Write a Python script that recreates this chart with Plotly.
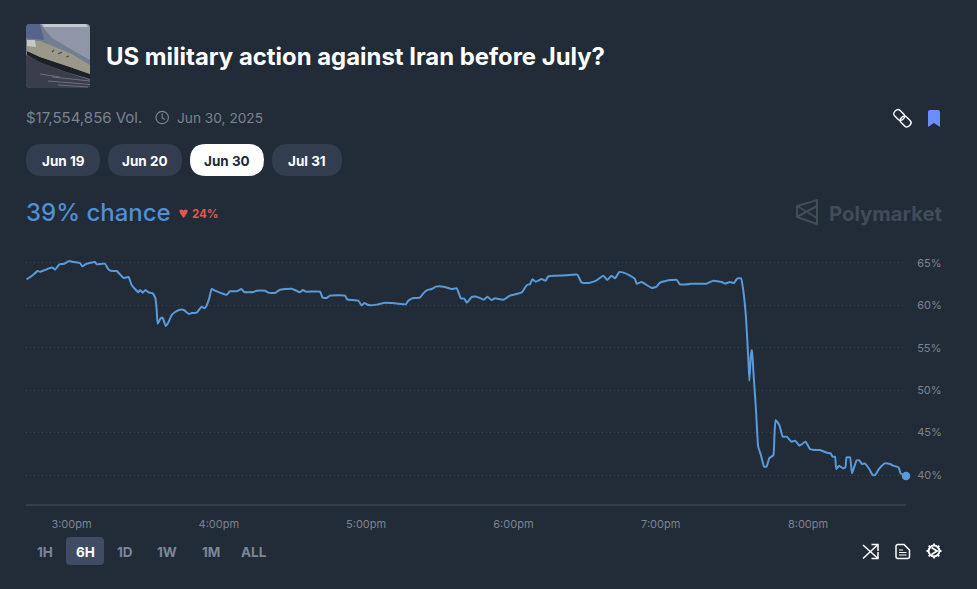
import plotly.graph_objects as go

# minutes after 3:00pm
minutes = [-18.3, -16.2, -14.9, -13.9, -12.8, -10.8, -8.8, -7.7, -6.7, -4.9, -3.3, -0.9, 0.75, 3.5, 4.4, 5.9, 9.6, 10.3, 13.6, 15.0,
           16.4, 18.4, 20.4, 21.4, 23.2, 24.5, 25.9, 27.2, 27.9, 29.0, 30.1, 31.3, 33.1, 34.2, 34.7, 35.1, 36.3, 37.1, 38.4, 39.4,
           40.8, 42.2, 44.2, 45.8, 47.9, 49.0, 51.0, 53.0, 54.0, 54.8, 56.1, 57.1, 58.4, 61.2, 63.2, 64.6, 67.3, 69.2, 70.3, 74.1,
           75.4, 78.8, 80.2, 82.9, 84.7, 89.7, 93.1, 94.2, 95.5, 101.2, 102.3, 103.9, 105.3,
           111.4, 112.3, 116.8, 118.2, 119.3, 120.9, 124.3, 127.7, 130.4, 136.2, 137.2, 139.2, 141.9, 143.3, 144.9, 146.7, 148.5,
           151.5, 154.9, 156.9, 158.6, 160.0, 161.0, 163.0, 165.0, 168.0, 169.4, 171.1, 172.5, 175.9, 178.6, 183.4, 185.4, 186.8,
           187.7, 189.1, 191.5, 193.1, 194.2, 196.9, 201.7, 206.0, 207.8, 211.2, 213.5, 216.6, 218.2, 220.0, 221.4, 223.1, 224.8,
           227.5, 229.5, 230.2, 232.2, 236.3, 238.3, 239.7,
           242.4, 246.5, 247.8, 251.2, 251.9, 258.7, 261.4, 264.8, 266.2, 268.2, 269.8, 271.2, 272.7, 273.6, 274.7, 275.7, 276.1,
           276.8, 277.2, 277.7, 278.8, 279.7, 280.8, 282.1, 283.1, 284.2, 285.9, 286.3, 286.8, 288.3, 289.7, 291.3, 293.3, 294.7,
           296.5, 299.0, 300.8, 303.5, 304.9, 307.6, 309.2, 310.0, 311.0, 311.5, 312.7, 314.1, 315.2, 315.7, 317.1, 317.9, 319.8,
           320.9, 322.0, 323.1, 325.0, 326.3, 327.3, 329.0, 331.3, 333.4, 334.7, 336.9, 337.7, 339.9]
chance = [63.07, 63.46, 63.78, 64.05, 63.97, 64.17, 64.41, 64.45, 64.21, 64.84, 64.88, 65.23, 65.11, 65.0, 64.6, 64.88, 65.11, 64.84, 64.92, 64.25,
          64.05, 64.05, 63.46, 63.23, 63.35, 62.4, 61.93, 61.54, 61.81, 61.5, 61.81, 61.54, 61.42, 60.83, 59.45, 57.84, 58.47, 58.55, 57.57, 57.96,
          58.86, 59.22, 59.49, 59.45, 58.98, 59.1, 59.14, 59.85, 59.65, 59.85, 60.83, 61.93, 61.73, 61.42, 61.26, 61.66, 61.66, 61.93, 61.58, 61.58,
          61.73, 61.73, 61.5, 61.46, 61.81, 61.97, 61.54, 61.81, 61.62, 61.62, 60.91, 60.87, 61.15,
          61.15, 60.71, 60.56, 60.0, 60.28, 60.05, 60.09, 60.32, 60.28, 60.13, 60.56, 60.87, 60.91, 61.42, 61.81, 61.93, 62.21,
          62.21, 61.93, 62.01, 60.83, 60.79, 60.32, 60.99, 61.03, 60.67, 61.03, 60.63, 60.83, 60.67, 61.15, 61.54, 62.37, 62.52,
          63.07, 62.8, 63.11, 62.91, 63.43, 63.5, 63.54, 63.62, 62.68, 62.68, 62.88, 63.5, 63.0, 63.5, 63.19, 63.94, 63.86,
          63.5, 63.11, 62.56, 62.76, 62.05, 62.21, 62.68,
          62.91, 63.0, 62.48, 62.48, 62.56, 62.56, 62.91, 62.76, 62.56, 62.76, 62.64, 63.19, 63.19, 61.81, 58.67, 53.56, 51.12,
          54.35, 54.74, 52.38, 47.67, 43.34, 42.36, 40.98, 40.98, 41.96, 42.36, 44.52, 46.48, 45.89, 44.52, 44.52, 43.93, 44.05,
          43.46, 43.93, 43.06, 42.95, 42.95, 42.63, 42.55, 42.16, 42.16, 40.71, 41.1, 40.78, 40.9, 42.08, 42.08, 40.2, 41.73,
          41.73, 41.29, 41.37, 40.67, 40.0, 40.0, 40.75, 41.37, 41.29, 41.1, 40.9, 40.2, 39.88]

x_ticks = [0, 60, 120, 180, 240, 300]
x_labels = ['3:00pm', '4:00pm', '5:00pm', '6:00pm', '7:00pm', '8:00pm']
y_ticks = [40, 45, 50, 55, 60, 65]
y_labels = ['40%', '45%', '50%', '55%', '60%', '65%']
outcomes = ['Jun 19', 'Jun 20', 'Jun 30', 'Jul 31']
ranges = ['1H', '6H', '1D', '1W', '1M', 'ALL']

W, H = 977, 589
BG = '#222b38'
BLUE = '#5b9ad8'
FONT = 'Inter'

fig = go.Figure()
# empty trace keeps the hidden full page axes alive
fig.add_trace(go.Scatter(x=[None], y=[None], xaxis='x2', yaxis='y2', hoverinfo='skip'))
fig.add_trace(go.Scatter(x=minutes, y=chance, mode='lines', line=dict(color=BLUE, width=2, shape='spline', smoothing=0.4),
                         hoverinfo='skip', cliponaxis=False))
fig.add_trace(go.Scatter(x=minutes[-1:], y=chance[-1:], mode='markers', marker=dict(color=BLUE, size=8.5),
                         hoverinfo='skip', cliponaxis=False))

# page furniture is laid out in pixels on a hidden full page axis pair
shapes = []
notes = []


def add_shape(path, fill=None, line=None, width=1.5):
    shapes.append(dict(type='path', path=path, xref='x2', yref='y2', fillcolor=fill or 'rgba(0,0,0,0)',
                       line=dict(color=line or 'rgba(0,0,0,0)', width=width if line else 0), layer='below'))


def rounded(x0, y0, x1, y1, r):
    return (f'M{x0+r},{y0} L{x1-r},{y0} Q{x1},{y0} {x1},{y0+r} L{x1},{y1-r} Q{x1},{y1} {x1-r},{y1} '
            f'L{x0+r},{y1} Q{x0},{y1} {x0},{y1-r} L{x0},{y0+r} Q{x0},{y0} {x0+r},{y0} Z')


def circle(cx, cy, r):
    k = 0.5523 * r
    return (f'M{cx-r},{cy} C{cx-r},{cy-k} {cx-k},{cy-r} {cx},{cy-r} C{cx+k},{cy-r} {cx+r},{cy-k} {cx+r},{cy} '
            f'C{cx+r},{cy+k} {cx+k},{cy+r} {cx},{cy+r} C{cx-k},{cy+r} {cx-r},{cy+k} {cx-r},{cy} Z')


def capsule(cx, cy, d, n):
    # link of the chain icon, running down and to the right
    return (f'M{cx-d+n},{cy-d-n} L{cx+d+n},{cy+d-n} C{cx+d+n+n},{cy+d} {cx+d},{cy+d+n+n} {cx+d-n},{cy+d+n} '
            f'L{cx-d-n},{cy-d+n} C{cx-d-n-n},{cy-d} {cx-d},{cy-d-n-n} {cx-d+n},{cy-d-n} Z')


def add_text(x, y, text, size, color, anchor='left', bold=False, weight=None):
    font = dict(family=FONT, size=size, color=color)
    if weight:
        font['weight'] = weight
    notes.append(dict(x=x, y=y, xref='x2', yref='y2', text=f'<b>{text}</b>' if bold else text, showarrow=False,
                      xanchor=anchor, yanchor='middle', borderpad=0, borderwidth=0, font=font))


# thumbnail
add_shape(rounded(26, 24, 90, 88, 4), fill='#717d93')
add_shape('M40,24 L86,24 Q90,24 90,28 L90,60 L72,50 L52,38 Z', fill='#8f96a8')
add_shape('M42,24 L86,24 L88,27 L44,27 Z', fill='#c3c9d3')
add_shape('M26,28 Q26,24 30,24 L40,24 L44,40 L26,38 Z', fill='#55648a')
add_shape('M26,55 L60,70 L90,80 L90,84 Q90,88 86,88 L30,88 Q26,88 26,84 Z', fill='#3a3d4a')
for streak in ['M52,77 L90,81', 'M48,81 L90,84.5', 'M58,85 L88,87', 'M40,74 L60,77']:
    add_shape(streak, line='#6f7079', width=1)
add_shape('M27,51 L40,57 L70,67 L90,74 L90,79 L66,72 L40,62 L27,55 Z', fill='#1d2027')
add_shape('M27,40 L40,41 L70,53 L90,65 L90,74 L70,67 L40,57 L27,51 Z', fill='#9a9888')
add_shape('M27,40 L35,40 L36,47 L27,46 Z', fill='#c6c8c6')
add_shape('M52,52 L54,50 M58,54 L62,52 M66,57 L69,56', line='#4a4a44', width=1.2)

add_text(106, 56, 'US military action against Iran before July?', 23.9, '#ffffff', bold=True)
add_text(26, 117.5, '$17,554,856 Vol.', 15, '#7b838f')
add_text(177, 117.5, 'Jun 30, 2025', 13.7, '#7b838f')

# clock
add_shape(circle(162.2, 117.5, 6.2), line='#7b838f', width=1.2)
add_shape('M162.2,113.5 L162.2,117.8 L165,119.5', line='#7b838f', width=1.2)

# link and bookmark
add_shape(capsule(899.2, 115, 2, 2.7), line='#ffffff', width=1.4)
add_shape(capsule(905.6, 121.5, 2, 2.7), line='#ffffff', width=1.4)
add_shape('M928,112 Q928,110 930,110 L938,110 Q940,110 940,112 L940,127 L934,123 L928,127 Z', fill='#6d8dff')

# outcome pills
pill_left = [26, 108, 190, 272]
pill_right = [100, 182, 264, 342]
for name, left, right in zip(outcomes, pill_left, pill_right):
    active = name == 'Jun 30'
    add_shape(rounded(left, 144, right, 176, 16), fill='#ffffff' if active else '#323d4f')
    add_text((left + right) / 2, 160.5, name, 13.5, BG if active else '#ffffff', anchor='center', bold=True)

add_text(26, 212, '39% chance', 24, '#4f8fd3', weight=500)
add_shape('M179.5,210 Q181.5,208.8 183.5,210.4 Q185.5,208.8 187.5,210 Q188.5,212 183.5,218 Q178.5,212 179.5,210 Z', fill='#e2574c')
add_text(192, 213.5, '24%', 11.5, '#e2574c', bold=True)

# Polymarket mark
add_shape('M817,200 L817,224 L797,217 L797,206 Z M797,206 L817,218 M797,217 L817,206', line='#414b5a', width=2)
add_text(829, 213, 'Polymarket', 20.3, '#414b5a', bold=True)

# range buttons
range_x = [45, 85, 125, 167, 211, 254]
add_shape(rounded(66, 537, 104, 565, 4), fill='#3f4c63')
for name, cx in zip(ranges, range_x):
    add_text(cx, 551.5, name, 13.5, '#ffffff' if name == '6H' else '#7b8698', anchor='center', bold=True)

# shuffle, document and gear
add_shape('M863,545 L878,558.5 M871.5,558.5 L878,558.5 L878,552 M863,558.5 L878,544.5 M871.5,544.5 L878,544.5 L878,551',
          line='#ffffff', width=1.5)
add_shape('M897,544.5 L904,544.5 L909.5,550 L909.5,556.5 Q909.5,558.5 907.5,558.5 L898,558.5 Q896,558.5 896,556.5 L896,546.5 Q896,544.5 898,544.5 Z',
          line='#ffffff', width=1.5)
add_shape('M899,550 L903,550 M899,552.5 L906.5,552.5 M899,555 L906.5,555', line='#ffffff', width=1.2)
add_shape(circle(934, 551, 5.4), line='#ffffff', width=2)
add_shape('M934,543.5 L934,545.5 M934,556.5 L934,558.5 M926.5,551 L928.5,551 M939.5,551 L941.5,551 '
          'M928.7,545.7 L930.1,547.1 M937.9,554.9 L939.3,556.3 M928.7,556.3 L930.1,554.9 M937.9,547.1 L939.3,545.7 '
          'M931.5,547.5 L937,551 L931.5,554.5',
          line='#ffffff', width=1.8)

fig.update_layout(
    width=W, height=H, autosize=False,
    margin=dict(l=0, r=0, t=0, b=0),
    paper_bgcolor=BG, plot_bgcolor='rgba(0,0,0,0)',
    showlegend=False,
    shapes=shapes, annotations=notes,
    font=dict(family=FONT),
    xaxis2=dict(domain=[0, 1], range=[0, W], visible=False, anchor='y2', fixedrange=True),
    yaxis2=dict(domain=[0, 1], range=[H, 0], visible=False, anchor='x2', fixedrange=True),
    xaxis=dict(domain=[26 / W, 906 / W], range=[-18.53, 339.9], tickvals=x_ticks, ticktext=x_labels,
               showgrid=False, zeroline=False, showline=True, linecolor='#333d4b', linewidth=1.5,
               ticks='outside', ticklen=9, tickcolor='rgba(0,0,0,0)',
               tickfont=dict(size=11, color='#7c8492', family=FONT), anchor='y', fixedrange=True),
    yaxis=dict(domain=[85 / H, 344 / H], range=[36.58, 67.12], tickvals=y_ticks, ticktext=y_labels, side='right',
               showgrid=True, gridcolor='#3a4554', griddash='1px,3px', gridwidth=1, zeroline=False, showline=False,
               ticks='outside', ticklen=8, tickcolor='rgba(0,0,0,0)',
               tickfont=dict(size=11, color='#7c8492', family=FONT), anchor='x', fixedrange=True),
)

fig.write_html('out.html', config=dict(displayModeBar=False),
               post_script="document.body.style.margin='0';document.body.style.background='#222b38';")
